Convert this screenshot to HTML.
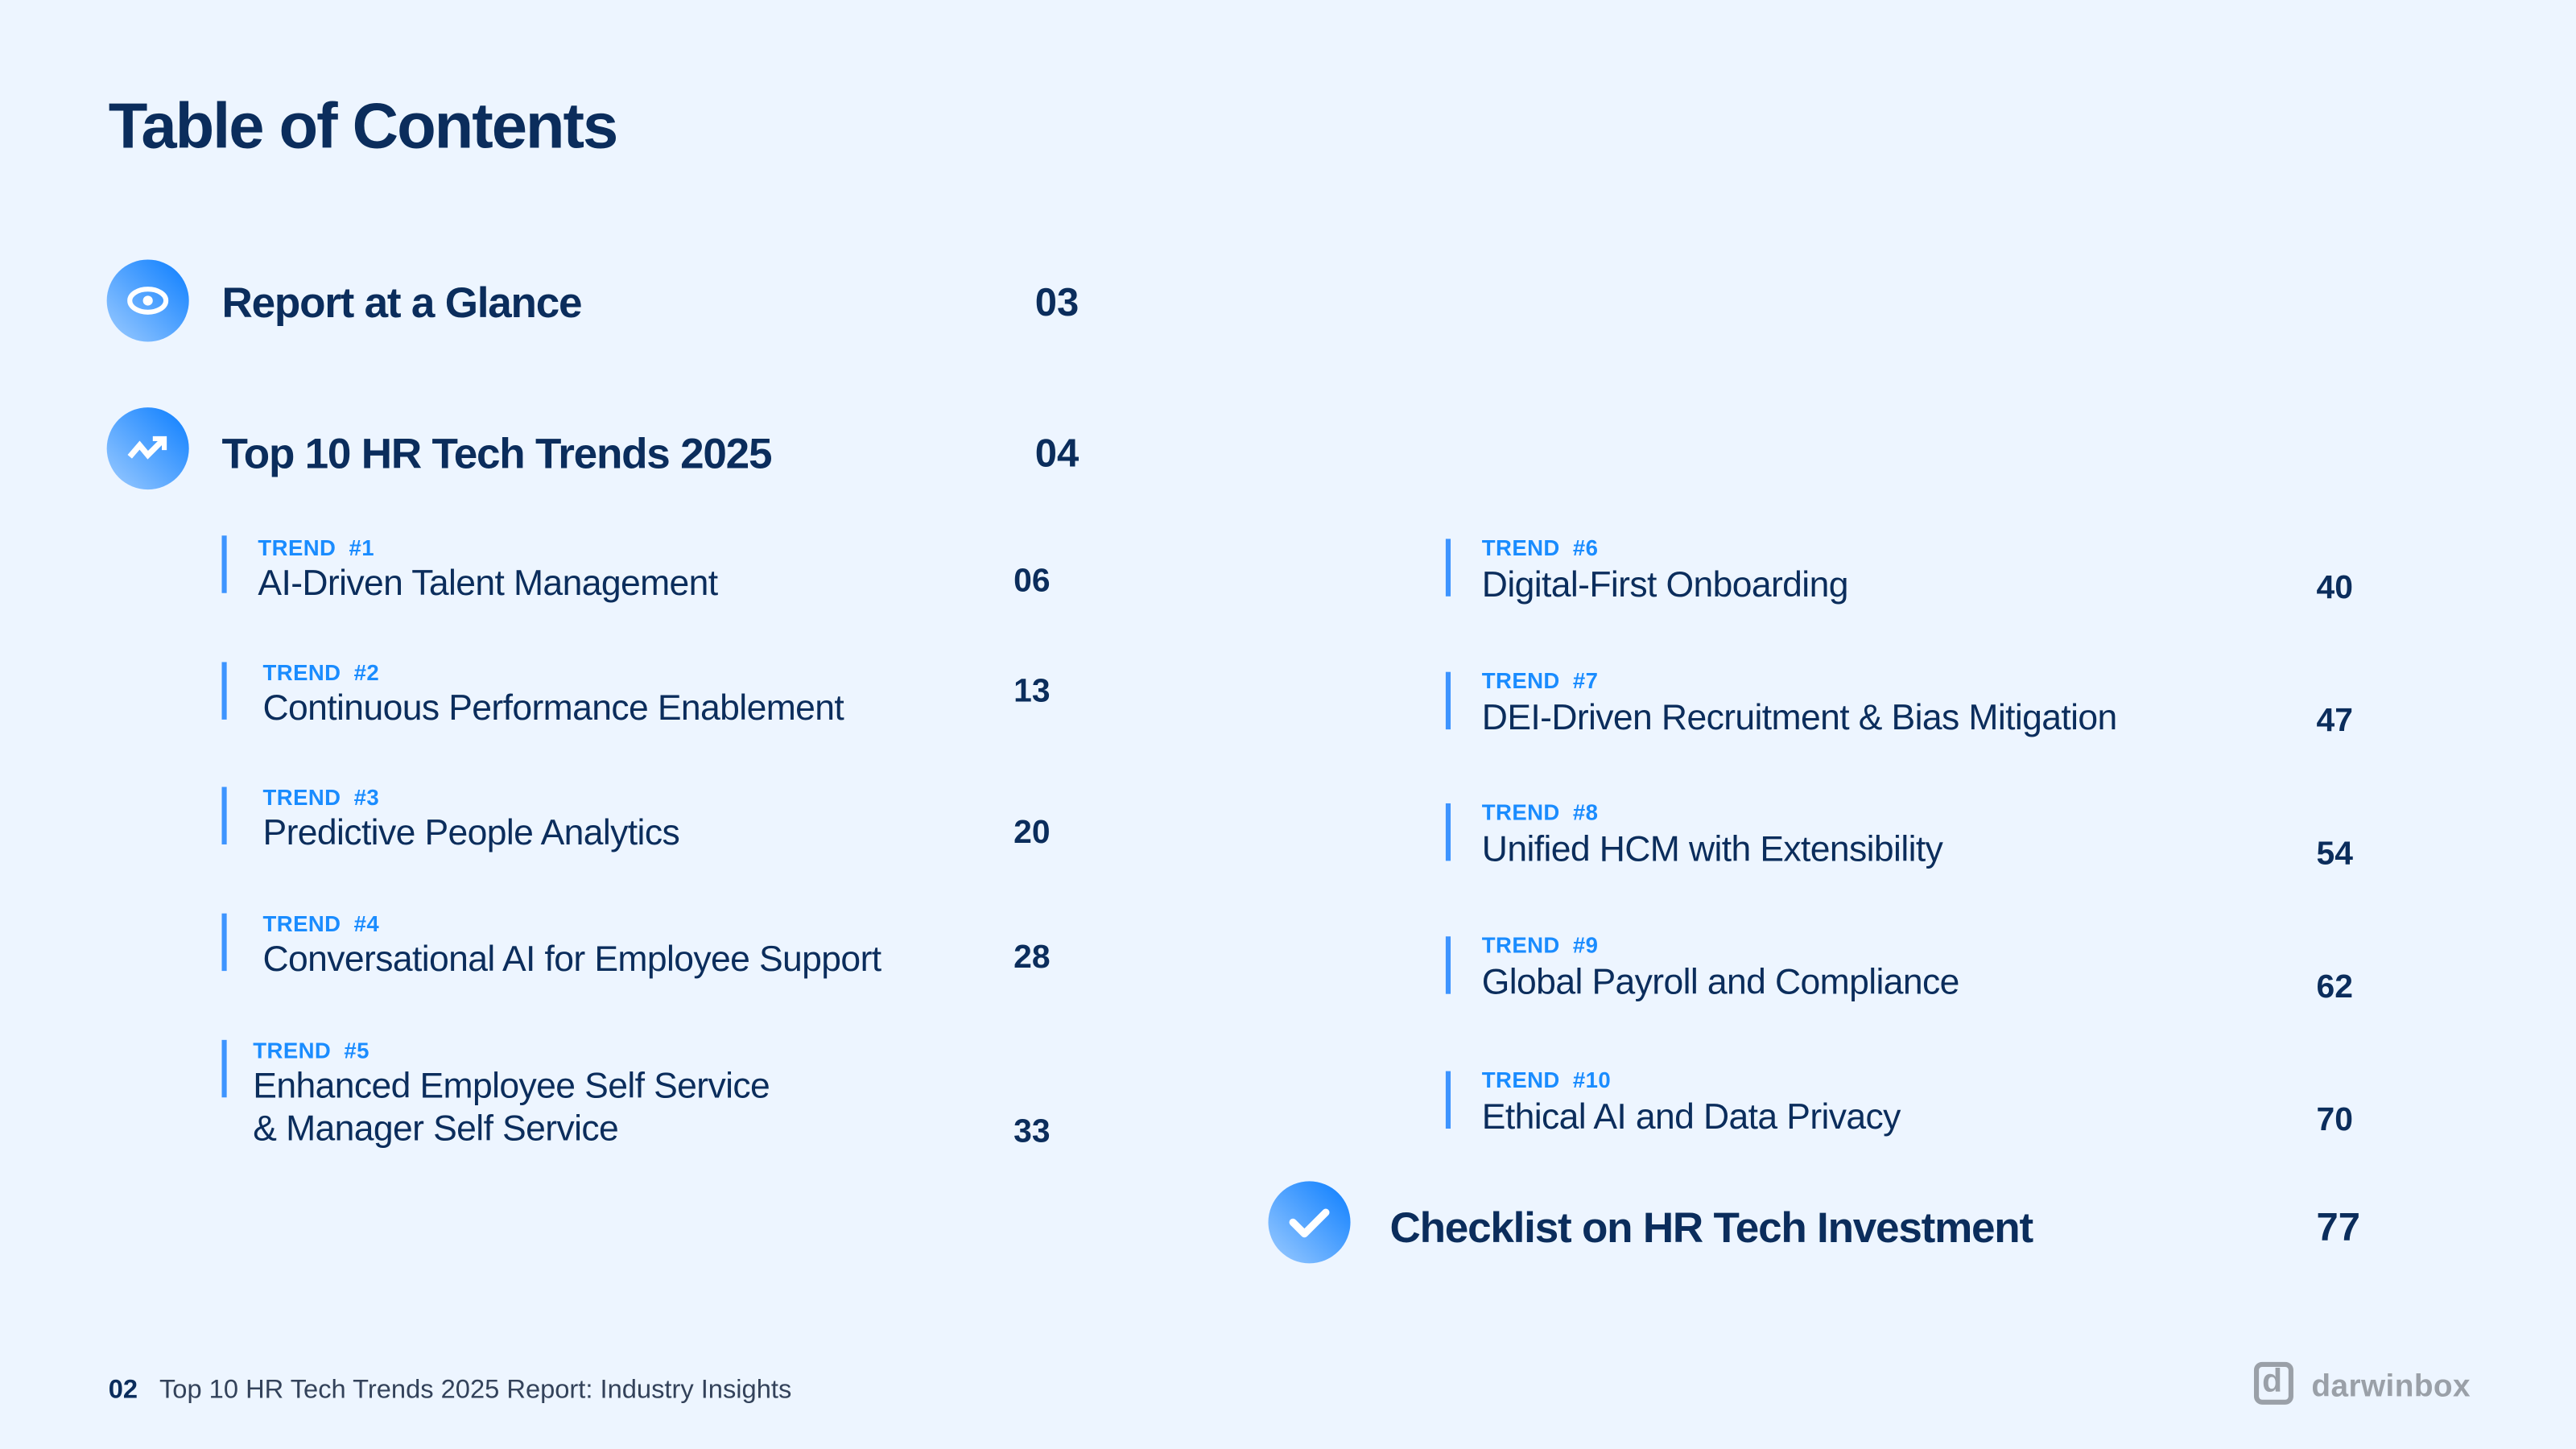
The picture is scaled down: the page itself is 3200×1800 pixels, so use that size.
<!DOCTYPE html>
<html><head><meta charset="utf-8"><style>
html,body{margin:0;padding:0}
body{width:3200px;height:1800px;background:#edf5ff;overflow:hidden;font-family:"Liberation Sans",Arial,sans-serif}
#w{position:absolute;left:0;top:0;width:1568px;height:882px;transform:scale(2.0408);transform-origin:0 0}
#w div{position:absolute;white-space:nowrap;line-height:1}
.h{color:#0b2d5c;font-weight:bold;font-size:26px;letter-spacing:-0.6px}
.n{color:#0b2d5c;font-weight:bold;font-size:24px}
.sn{color:#0b2d5c;font-weight:bold;font-size:20px}
.l{color:#1a8cff;font-weight:bold;font-size:13.5px;letter-spacing:0.2px}
.t{color:#0b2d5c;font-size:21.8px;letter-spacing:-0.3px}
.b{width:3px;background:#3d94ff}
.c{width:50px;height:50px;border-radius:50%;background:linear-gradient(225deg,#0a7dff,#9ccbff)}
</style></head><body><div id="w">
<div style="left:66px;top:58px;font-size:39px;font-weight:bold;color:#0b2d5c;letter-spacing:-1px">Table of Contents</div>

<div class="c" style="left:65px;top:158px"><svg width="50" height="50"><ellipse cx="25" cy="25" rx="11" ry="7" fill="none" stroke="#fff" stroke-width="3"/><circle cx="25" cy="25" r="3" fill="#fff"/></svg></div>
<div class="h" style="left:135px;top:171px">Report at a Glance</div>
<div class="n" style="left:630px;top:173px">03</div>

<div class="c" style="left:65px;top:248px"><svg width="50" height="50"><polyline points="14,30 20,23 25,29 34,20" fill="none" stroke="#fff" stroke-width="3.5"/><polyline points="28,19 35,19 35,26" fill="none" stroke="#fff" stroke-width="3"/></svg></div>
<div class="h" style="left:135px;top:263px">Top 10 HR Tech Trends 2025</div>
<div class="n" style="left:630px;top:265px">04</div>

<div class="b" style="left:135px;top:326px;height:35px"></div>
<div class="l" style="left:157px;top:327px">TREND&nbsp;&nbsp;#1</div>
<div class="t" style="left:157px;top:344px">AI-Driven Talent Management</div>
<div class="sn" style="left:617px;top:344px">06</div>

<div class="b" style="left:135px;top:403px;height:35px"></div>
<div class="l" style="left:160px;top:403px">TREND&nbsp;&nbsp;#2</div>
<div class="t" style="left:160px;top:420px">Continuous Performance Enablement</div>
<div class="sn" style="left:617px;top:411px">13</div>

<div class="b" style="left:135px;top:479px;height:35px"></div>
<div class="l" style="left:160px;top:479px">TREND&nbsp;&nbsp;#3</div>
<div class="t" style="left:160px;top:496px">Predictive People Analytics</div>
<div class="sn" style="left:617px;top:497px">20</div>

<div class="b" style="left:135px;top:556px;height:35px"></div>
<div class="l" style="left:160px;top:556px">TREND&nbsp;&nbsp;#4</div>
<div class="t" style="left:160px;top:573px">Conversational AI for Employee Support</div>
<div class="sn" style="left:617px;top:573px">28</div>

<div class="b" style="left:135px;top:633px;height:35px"></div>
<div class="l" style="left:154px;top:633px">TREND&nbsp;&nbsp;#5</div>
<div class="t" style="left:154px;top:650px">Enhanced Employee Self Service</div>
<div class="t" style="left:154px;top:676px">&amp; Manager Self Service</div>
<div class="sn" style="left:617px;top:679px">33</div>

<div class="b" style="left:880px;top:328px;height:35px"></div>
<div class="l" style="left:902px;top:327px">TREND&nbsp;&nbsp;#6</div>
<div class="t" style="left:902px;top:345px">Digital-First Onboarding</div>
<div class="sn" style="left:1410px;top:348px">40</div>

<div class="b" style="left:880px;top:409px;height:35px"></div>
<div class="l" style="left:902px;top:408px">TREND&nbsp;&nbsp;#7</div>
<div class="t" style="left:902px;top:426px">DEI-Driven Recruitment &amp; Bias Mitigation</div>
<div class="sn" style="left:1410px;top:429px">47</div>

<div class="b" style="left:880px;top:489px;height:35px"></div>
<div class="l" style="left:902px;top:488px">TREND&nbsp;&nbsp;#8</div>
<div class="t" style="left:902px;top:506px">Unified HCM with Extensibility</div>
<div class="sn" style="left:1410px;top:510px">54</div>

<div class="b" style="left:880px;top:570px;height:35px"></div>
<div class="l" style="left:902px;top:569px">TREND&nbsp;&nbsp;#9</div>
<div class="t" style="left:902px;top:587px">Global Payroll and Compliance</div>
<div class="sn" style="left:1410px;top:591px">62</div>

<div class="b" style="left:880px;top:652px;height:35px"></div>
<div class="l" style="left:902px;top:651px">TREND&nbsp;&nbsp;#10</div>
<div class="t" style="left:902px;top:669px">Ethical AI and Data Privacy</div>
<div class="sn" style="left:1410px;top:672px">70</div>

<div class="c" style="left:772px;top:719px"><svg width="50" height="50"><polyline points="15,25 22,32 35,19" fill="none" stroke="#fff" stroke-width="4.5" stroke-linecap="round" stroke-linejoin="round"/></svg></div>
<div class="h" style="left:846px;top:734px">Checklist on HR Tech Investment</div>
<div class="n" style="left:1410px;top:736px">77</div>

<div style="left:66px;top:839px;font-size:16px;font-weight:bold;color:#0b2d5c">02</div>
<div style="left:97px;top:839px;font-size:16px;color:#33425a">Top 10 HR Tech Trends 2025 Report: Industry Insights</div>

<div style="left:1372px;top:829px;width:24px;height:26px;border:3px solid #9aa0a8;border-radius:5px;box-sizing:border-box"></div>
<div style="left:1377px;top:831px;font-size:20px;color:#9aa0a8;font-weight:bold">d</div>
<div style="left:1407px;top:835px;font-size:19px;color:#9aa0a8;font-weight:bold;letter-spacing:0.2px">darwinbox</div>
</div></body></html>
